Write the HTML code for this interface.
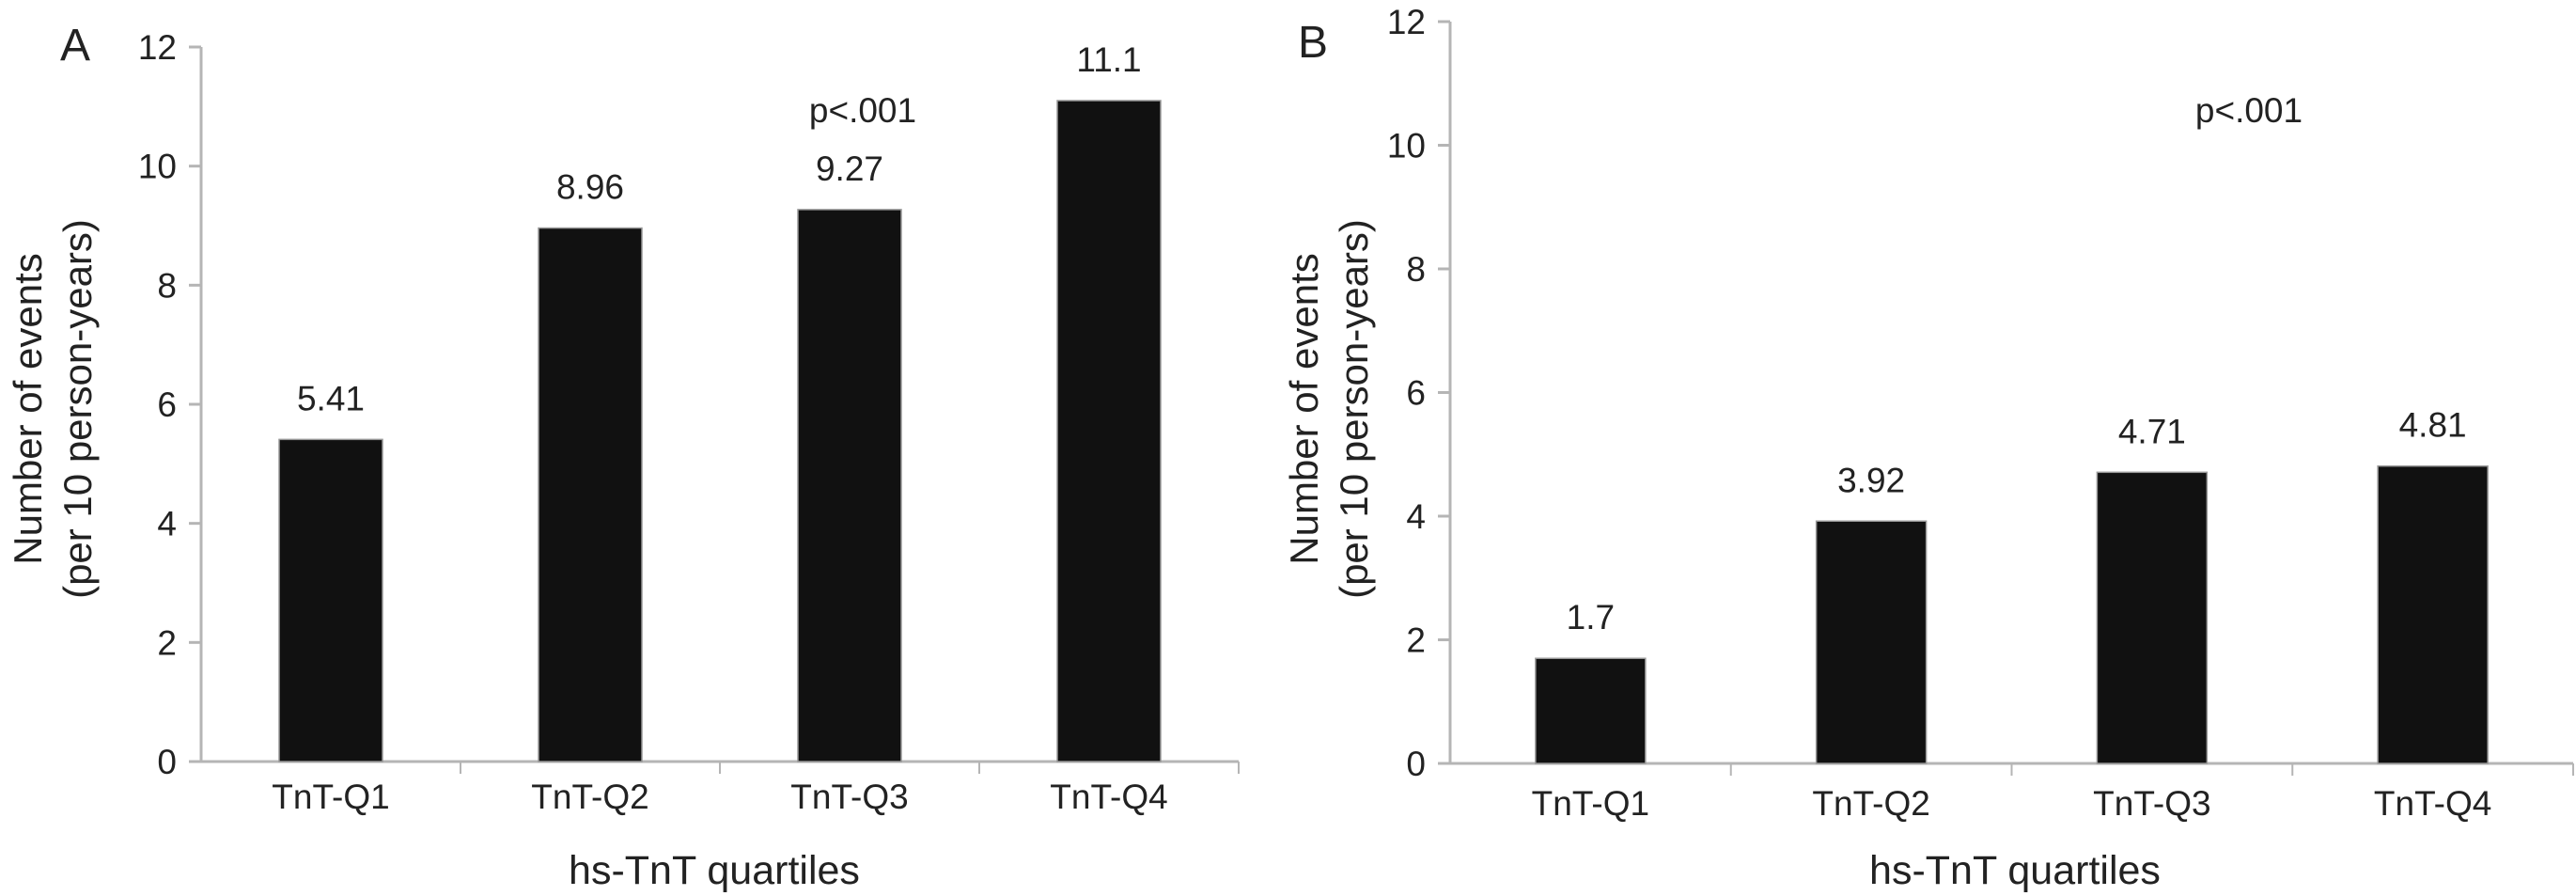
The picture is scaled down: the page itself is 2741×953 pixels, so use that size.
<!DOCTYPE html>
<html><head><meta charset="utf-8"><style>
html,body{margin:0;padding:0;background:#fff;}
svg{display:block;}
text{font-family:"Liberation Sans Narrow","Liberation Sans",sans-serif;fill:#222;}
.t{font-family:"Liberation Sans",sans-serif;}
</style></head><body>
<svg id="c" width="2741" height="953" viewBox="0 0 2741 953" xmlns="http://www.w3.org/2000/svg"></svg>
<script>
const categories = ["TnT-Q1","TnT-Q2","TnT-Q3","TnT-Q4"];
const valuesA = [5.41, 8.96, 9.27, 11.1];
const labelsA = ["5.41","8.96","9.27","11.1"];
const valuesB = [1.7, 3.92, 4.71, 4.81];
const labelsB = ["1.7","3.92","4.71","4.81"];
const yTicks = [0,2,4,6,8,10,12];
const pText = "p<.001";

const svg = document.getElementById('c');
const NS = "http://www.w3.org/2000/svg";
function mk(tag, attrs, parent, txt){
  const e = document.createElementNS(NS, tag);
  for (const k in attrs) e.setAttribute(k, attrs[k]);
  if (txt !== undefined) e.textContent = txt;
  parent.appendChild(e);
  return e;
}
function panel(cfg){
  const g = mk('g', {}, svg);
  
  
  const y = v => cfg.y0 - (cfg.y0 - cfg.y12) * v / 12;
  const step = (cfg.xr - cfg.x0) / categories.length;
  const xc = i => cfg.x0 + step * (i + 0.5);
  const L = mk('text', {x: cfg.lx, y: cfg.ly, 'font-size': 48, class:'t'}, g, cfg.id);
  
  
  const ya = mk('line', {x1: cfg.x0, y1: cfg.y12, x2: cfg.x0, y2: cfg.y0, stroke:'#b5b5b5', 'stroke-width':3}, g);
  
  
  const xa = mk('line', {x1: cfg.x0 - 13, y1: cfg.y0, x2: cfg.xr, y2: cfg.y0, stroke:'#b5b5b5', 'stroke-width':3}, g);
  
  
  yTicks.forEach(t => {
    const tk = mk('line', {x1: cfg.x0 - 13, y1: y(t), x2: cfg.x0, y2: y(t), stroke:'#b5b5b5', 'stroke-width':3}, g);
    
    
    const tl = mk('text', {x: cfg.x0 - 26, y: y(t) + 13, 'font-size': 37, 'text-anchor':'end'}, g, String(t));
    
    
  });
  for (let i = 1; i <= categories.length; i++) {
    const xt = cfg.x0 + step * i;
    const tk = mk('line', {x1: xt, y1: cfg.y0, x2: xt, y2: cfg.y0 + 13, stroke:'#b5b5b5', 'stroke-width':2}, g);
    
    
  }
  categories.forEach((c, i) => {
    const v = cfg.values[i];
    const b = mk('rect', {x: xc(i) - cfg.bw/2, y: y(v), width: cfg.bw, height: cfg.y0 - y(v), fill:'#111', stroke:'#999', 'stroke-width':1.5}, g);
    
    
    const vl = mk('text', {x: xc(i), y: y(v) - 31, 'font-size': 37, 'text-anchor':'middle'}, g, cfg.labels[i]);
    
    
    const cl = mk('text', {x: xc(i), y: cfg.catY, 'font-size': 37, 'text-anchor':'middle'}, g, c);
    
    
  });
  const xt = mk('text', {x: cfg.xtX, y: cfg.xtY, 'font-size': 43, 'text-anchor':'middle'}, g, 'hs-TnT quartiles');
  
  
  const p = mk('text', {x: cfg.px, y: 130, 'font-size': 37, 'text-anchor':'middle'}, g, pText);
  
  
  const yt = mk('text', {transform:`translate(${cfg.ytx},${cfg.yty}) rotate(-90)`, 'font-size': 42, 'text-anchor':'middle', class:'t'}, g);
  
  
  mk('tspan', {x:0, y:0}, yt, 'Number of events');
  mk('tspan', {x:0, y:53}, yt, '(per 10 person-years)');
}
panel({id:'A', values: valuesA, labels: labelsA, x0: 214, xr: 1318, y0: 810, y12: 50, bw: 110,
  lx: 64, ly: 64, catY: 860, xtX: 760, xtY: 940, px: 918, ytx: 44, yty: 435});
panel({id:'B', values: valuesB, labels: labelsB, x0: 1543, xr: 2738, y0: 812, y12: 23, bw: 117,
  lx: 1381, ly: 61, catY: 867, xtX: 2144, xtY: 940, px: 2393, ytx: 1402, yty: 435});
</script>
</body></html>
